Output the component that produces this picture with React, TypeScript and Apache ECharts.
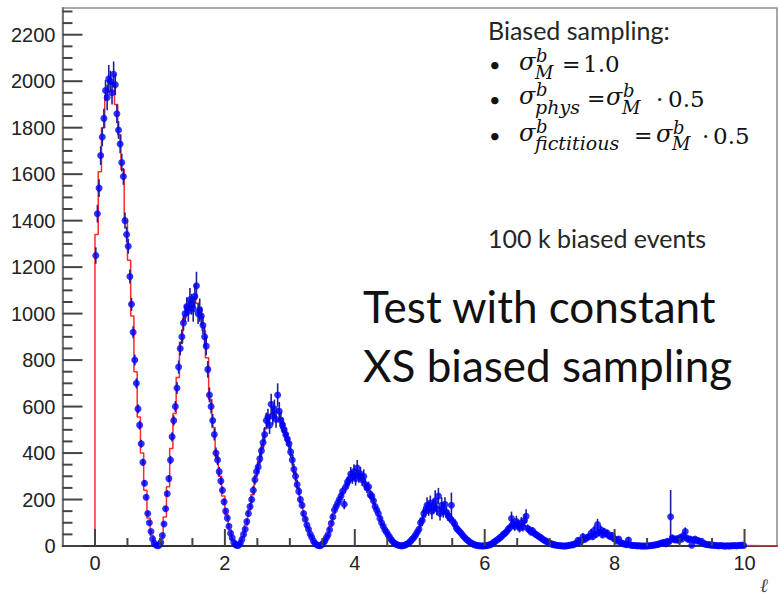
import React, { useEffect, useRef } from "react";
import * as echarts from "echarts";

// bin widths of the histograms
const pointBinWidth = 0.025;
const curveBinWidth = 0.05;

// blue points (biased sampling), one per 0.025 bin from 0 to 10
const blueValues = [
  1250, 1430, 1540, 1680, 1760, 1840, 1960, 1930, 2010, 2000,
  1950, 2030, 1985, 1860, 1790, 1730, 1650, 1590, 1400, 1340,
  1290, 1160, 1040, 920, 800, 700, 590, 520, 440, 360,
  270, 210, 140, 100, 62, 30, 12, 4, 1, 3,
  15, 45, 95, 160, 225, 290, 370, 470, 540, 600,
  680, 770, 850, 900, 960, 1000, 1030, 1010, 1060, 1040,
  1020, 1075, 1120, 1000, 1015, 990, 950, 900, 860, 760,
  650, 600, 540, 480, 400, 370, 320, 280, 240, 190,
  150, 120, 85, 55, 35, 15, 6, 2,
  3, 12, 28, 50, 72, 105, 140, 170, 200, 240,
  285, 320, 340, 375, 410, 445, 480, 540, 555, 520,
  610, 560, 590, 545, 650, 580, 540, 520, 500, 480,
  460, 440, 405, 370, 330, 300, 265, 235, 200, 175,
  140, 115, 90, 72, 52, 38, 22, 12, 5, 2,
  1, 4, 12, 22, 35, 48, 70, 98, 125, 155,
  170, 185, 200, 215, 235, 180, 255, 275, 285, 310,
  295, 320, 290, 335, 300, 310, 285, 300, 265, 250,
  255, 220, 215, 195, 170, 155, 140, 118, 100, 85,
  70, 60, 48, 38, 27, 18, 12, 7, 4, 2,
  1, 1, 3, 6, 10, 15, 22, 30, 38, 48,
  60, 72, 100, 110, 140, 150, 175, 160, 185, 150,
  170, 195, 160, 215, 140, 175, 150, 180, 145, 130,
  120, 175, 105, 95, 78, 70, 62, 55, 45, 38,
  30, 25, 18, 14, 10, 6, 4, 2, 1, 1,
  0, 1, 1, 2, 4, 6, 10, 16, 20, 26,
  30, 36, 42, 50, 55, 62, 72, 80, 118, 95,
  85, 105, 90, 78, 100, 82, 110, 128, 75, 70,
  60, 65, 55, 50, 45, 40, 36, 30, 26, 22,
  18, 14, 11, 8, 6, 4, 3, 2, 1, 1,
  0, 0, 1, 2, 3, 5, 6, 9, 12, 25,
  18, 22, 40, 28, 34, 38, 42, 55, 40, 68,
  50, 92, 58, 70, 48, 62, 52, 56, 44, 40,
  46, 32, 28, 22, 30, 16, 12, 10, 8, 6,
  26, 4, 3, 2, 2, 1, 1, 1, 0, 0,
  0, 0, 1, 1, 2, 3, 4, 5, 7, 9,
  12, 14, 16, 10, 20, 18, 126, 35, 28, 26,
  32, 24, 38, 30, 45, 62, 34, 28, 30, 3,
  26, 30, 22, 24, 18, 20, 12, 9, 7, 5,
  6, 3, 4, 2, 2, 1, 1, 2, 1, 0,
  0, 1, 0, 1, 1, 2, 1, 1, 3, 2,
  4, 2,
];

// error bar half-lengths of the blue points
const blueErrors = [
  35, 38, 38, 40, 40, 42, 45, 55, 60, 45, 50, 55, 45, 40, 38, 40, 38, 36, 35, 34,
  32, 30, 28, 26, 24, 22, 20, 19, 17, 15, 13, 11, 9, 8, 6, 4, 3, 2, 1, 2,
  3, 5, 8, 11, 14, 16, 18, 20, 22, 24, 26, 28, 30, 32, 34, 36, 40, 45, 50, 45,
  55, 50, 60, 45, 50, 40, 38, 45, 40, 36, 32, 30, 28, 26, 24, 22, 20, 18, 16, 14,
  12, 10, 8, 6, 5, 3, 2, 1,
  1, 3, 5, 7, 9, 11, 13, 15, 17, 19, 21, 22, 24, 26, 28, 30, 32, 34, 36, 38,
  45, 38, 40, 36, 50, 40, 36, 34, 32, 30, 28, 28, 26, 25, 24, 22, 20, 18, 16, 14,
  12, 10, 9, 8, 6, 5, 4, 3, 2, 1,
  1, 2, 3, 4, 5, 6, 8, 10, 12, 14, 15, 16, 17, 18, 20, 22, 22, 24, 26, 30,
  28, 32, 30, 35, 28, 30, 26, 30, 24, 22, 22, 20, 20, 18, 16, 15, 14, 12, 11, 10,
  9, 8, 7, 6, 5, 4, 3, 2, 2, 1,
  1, 1, 2, 3, 4, 5, 6, 8, 10, 12, 14, 16, 22, 25, 30, 28, 35, 30, 32, 35,
  30, 45, 28, 35, 30, 35, 28, 30, 25, 22, 20, 55, 20, 18, 16, 15, 14, 12, 10, 9,
  8, 7, 6, 5, 4, 3, 2, 2, 1, 1,
  0, 1, 1, 2, 2, 3, 4, 5, 6, 7, 8, 9, 10, 12, 13, 14, 16, 18, 30, 22,
  20, 25, 22, 20, 24, 20, 28, 30, 18, 16, 15, 16, 14, 13, 12, 11, 10, 9, 8, 7,
  6, 5, 4, 3, 3, 2, 2, 1, 1, 1,
  0, 0, 1, 1, 2, 2, 3, 3, 4, 12, 6, 7, 15, 8, 10, 10, 11, 18, 12, 20,
  14, 25, 15, 18, 12, 16, 13, 14, 11, 10, 12, 9, 8, 7, 12, 5, 4, 4, 3, 3,
  12, 2, 2, 1, 1, 1, 1, 1, 0, 0,
  0, 0, 1, 1, 1, 1, 2, 2, 3, 3, 4, 4, 5, 6, 6, 6, 115, 12, 10, 9,
  11, 9, 12, 10, 14, 18, 11, 10, 10, 3, 9, 10, 8, 8, 7, 7, 5, 4, 3, 3,
  3, 2, 2, 1, 1, 1, 1, 1, 1, 0, 0, 1, 0, 1, 1, 1, 1, 1, 1, 1,
  2, 1,
];

// red reference histogram, one per 0.05 bin from 0 to 10
const redValues = [
  1340, 1610, 1800, 1940, 2000, 1990, 1900, 1770, 1620, 1400,
  1230, 990, 750, 555, 400, 240, 120, 45, 8, 2,
  30, 125, 255, 420, 570, 725, 875, 980, 1030, 1050, 1060, 1045,
  1000, 925, 810, 630, 510, 385, 300, 215, 135, 70, 25, 4,
  8, 40, 90, 155, 220, 300, 360, 425, 505, 545, 570, 575, 575,
  535, 490, 450, 390, 315, 250, 190, 128, 80, 45, 17, 4,
  2, 17, 42, 85, 140, 178, 208, 230, 265, 295, 305, 308, 305,
  292, 258, 238, 205, 162, 130, 92, 65, 43, 22, 10, 3,
  1, 4, 12, 26, 43, 66, 105, 135, 155, 162, 165, 165, 160,
  155, 140, 122, 100, 74, 58, 42, 28, 16, 8, 3, 1,
  0, 1, 5, 13, 23, 33, 46, 58, 76, 86, 90, 90, 90,
  86, 76, 64, 53, 43, 33, 24, 16, 10, 5, 2, 1,
  0, 1, 4, 7, 15, 20, 28, 36, 44, 50, 55, 56, 54,
  50, 44, 37, 28, 20, 12, 7, 4, 2, 1, 1, 0,
  0, 1, 2, 4, 8, 13, 15, 19, 22, 26, 28, 30, 32, 30, 28, 26,
  23, 19, 11, 6, 4, 3, 1, 1, 1, 0, 1, 1, 1, 2, 2,
];

// axis ticks and labels
const xTickLabels = [0, 2, 4, 6, 8, 10];
const xMinorTicks = [
  0.5, 1, 1.5, 2.5, 3, 3.5, 4.5, 5, 5.5, 6.5, 7, 7.5, 8.5, 9, 9.5,
];
const yTickLabels = [0, 200, 400, 600, 800, 1000, 1200, 1400, 1600, 1800, 2000, 2200];
const yMinorTicks = [
  50, 100, 150, 250, 300, 350, 450, 500, 550, 650, 700, 750, 850, 900, 950,
  1050, 1100, 1150, 1250, 1300, 1350, 1450, 1500, 1550, 1650, 1700, 1750,
  1850, 1900, 1950, 2050, 2100, 2150, 2250, 2300,
];
const xLabelStep = 0.5;
const yLabelStep = 200;

const X_MIN = -0.5;
const X_MAX = 10.5;
const Y_MAX = 2315;

const sans = "Lato, 'Open Sans', sans-serif";
const serif = "'DejaVu Serif', serif";
const TICK_COLOR = "#444444";

function txt(text: string, x: number, y: number, font: string, fill = "#1a1a1a", lineHeight?: number) {
  const style: any = { text, font, fill, align: "left", verticalAlign: "middle" };
  if (lineHeight) style.lineHeight = lineHeight;
  return { type: "text", x, y, silent: true, style };
}

const near = (list: number[], v: number) => list.some((t) => Math.abs(t - v) < 1e-6);

// tick marks drawn as thin rectangle symbols of a scatter series, placed by the chart's scales
function tickMarks(values: number[], axis: "x" | "y", len: number) {
  const data = values.map((v) => (axis === "x" ? [v, 0] : [X_MIN, v]));
  return {
    type: "scatter",
    data,
    symbol: "rect",
    symbolSize: axis === "x" ? [2, len] : [len, 2],
    symbolOffset: axis === "x" ? [0, -len / 2] : [len / 2, 0],
    itemStyle: { color: TICK_COLOR, opacity: 1 },
    clip: false,
    silent: true,
    z: 8,
  };
}

export default function App() {
  const ref = useRef<HTMLDivElement>(null);

  useEffect(() => {
    if (!ref.current) return;
    const chart = echarts.init(ref.current, undefined, { renderer: "svg" });

    const blueData = blueValues.map((v, j) => [pointBinWidth * (j + 0.5), v]);
    const errData = blueValues.map((v, j) => [
      pointBinWidth * (j + 0.5),
      Math.max(0, v - blueErrors[j]),
      v + blueErrors[j],
    ]);
    const redData: number[][] = [[0, 0]];
    redValues.forEach((v, i) => redData.push([curveBinWidth * i, v]));
    redData.push([curveBinWidth * redValues.length, redValues[redValues.length - 1]]);
    redData.push([curveBinWidth * redValues.length, 0]);
    redData.push([X_MAX, 0]);

    const axisFont = { fontSize: 20, fontFamily: "'Liberation Sans', Arial, sans-serif", color: "#222" };

    const mathI = (s: number) => `italic ${s}px ${serif}`;
    const mathR = (s: number) => `${s}px ${serif}`;
    const LH = 13;

    const texts: any[] = [
      txt("Biased sampling:", 488, 30, `25px ${sans}`, "#262626"),
      txt("•", 489, 64, `20px ${sans}`, "#111", LH),
      txt("•", 489, 99, `20px ${sans}`, "#111", LH),
      txt("•", 489, 135, `20px ${sans}`, "#111", LH),
      // line 1
      txt("σ", 519, 62, mathI(24), "#111", 16),
      txt("b", 536, 55, mathI(18), "#111", LH),
      txt("M", 535, 72, mathI(18), "#111", LH),
      txt("=", 562, 64, mathR(22), "#111", LH),
      txt("1.0", 583, 64, mathR(23), "#111", 16),
      // line 2
      txt("σ", 519, 96, mathI(24), "#111", 16),
      txt("b", 536, 89, mathI(18), "#111", LH),
      txt("phys", 535, 107, mathI(19), "#111", LH),
      txt("=", 587, 98, mathR(22), "#111", LH),
      txt("σ", 606, 97, mathI(24), "#111", 16),
      txt("b", 623, 90, mathI(18), "#111", LH),
      txt("M", 622, 107, mathI(18), "#111", LH),
      txt("·", 656, 99, mathR(23), "#111", LH),
      txt("0.5", 668, 99, mathR(23), "#111", 16),
      // line 3
      txt("σ", 519, 133, mathI(24), "#111", 16),
      txt("b", 536, 126, mathI(18), "#111", LH),
      txt("fictitious", 535, 143, mathI(19), "#111", LH),
      txt("=", 634, 135, mathR(22), "#111", LH),
      txt("σ", 656, 134, mathI(24), "#111", 16),
      txt("b", 673, 127, mathI(18), "#111", LH),
      txt("M", 672, 143, mathI(18), "#111", LH),
      txt("·", 702, 136, mathR(23), "#111", LH),
      txt("0.5", 713, 136, mathR(23), "#111", 16),
      txt("100 k biased events", 488, 238, `25px ${sans}`, "#262626"),
      txt("Test with constant", 363, 306, `44px ${sans}`, "#111"),
      txt("XS biased sampling", 363, 365, `44px ${sans}`, "#111"),
      txt("ℓ", 760, 585, `italic 19px ${serif}`, "#444"),
    ];

    const option = {
      animation: false,
      backgroundColor: "#ffffff",
      grid: {
        left: 62.5,
        right: 2.5,
        top: 8,
        bottom: 49,
        show: true,
        backgroundColor: "transparent",
        borderColor: "#8a8a8a",
        borderWidth: 1.5,
        containLabel: false,
      },
      xAxis: {
        type: "value",
        min: X_MIN,
        max: X_MAX,
        interval: xLabelStep,
        position: "bottom",
        axisLine: { show: true, onZero: false, lineStyle: { color: "#111", width: 1.5 } },
        axisTick: { show: false },
        axisLabel: {
          show: true,
          margin: 7,
          formatter: (v: number) => (near(xTickLabels, v) ? String(Math.round(v)) : ""),
          ...axisFont,
        },
        splitLine: { show: false },
      },
      yAxis: {
        type: "value",
        min: 0,
        max: Y_MAX,
        interval: yLabelStep,
        position: "left",
        axisLine: { show: true, onZero: false, lineStyle: { color: "#777", width: 2 } },
        axisTick: { show: false },
        axisLabel: {
          show: true,
          margin: 7,
          formatter: (v: number) => (near(yTickLabels, v) ? String(Math.round(v)) : ""),
          ...axisFont,
        },
        splitLine: { show: false },
      },
      series: [
        tickMarks(xTickLabels, "x", 17),
        tickMarks(xMinorTicks, "x", 8),
        tickMarks(yTickLabels, "y", 20),
        tickMarks(yMinorTicks, "y", 10),
        {
          type: "line",
          data: redData,
          step: "end",
          symbol: "none",
          showSymbol: false,
          lineStyle: { color: "#ff2a2a", width: 1.5 },
          z: 2,
          silent: true,
        },
        {
          type: "custom",
          data: errData,
          z: 3,
          silent: true,
          renderItem: (params: any, api: any) => {
            const x = api.value(0);
            const p1 = api.coord([x, api.value(1)]);
            const p2 = api.coord([x, api.value(2)]);
            return {
              type: "line",
              shape: { x1: p1[0], y1: p1[1], x2: p2[0], y2: p2[1] },
              style: { stroke: "#1f1f96", lineWidth: 1.6 },
            };
          },
        },
        {
          type: "scatter",
          data: blueData,
          symbol: "circle",
          symbolSize: 7,
          itemStyle: { color: "#0000ff" },
          z: 4,
          silent: true,
        },
      ],
      graphic: { elements: texts },
    };

    chart.setOption(option as any);
    return () => chart.dispose();
  }, []);

  return (
    <div
      ref={ref}
      style={{ position: "fixed", left: 0, top: 0, width: 780, height: 595, background: "#fff" }}
    />
  );
}
